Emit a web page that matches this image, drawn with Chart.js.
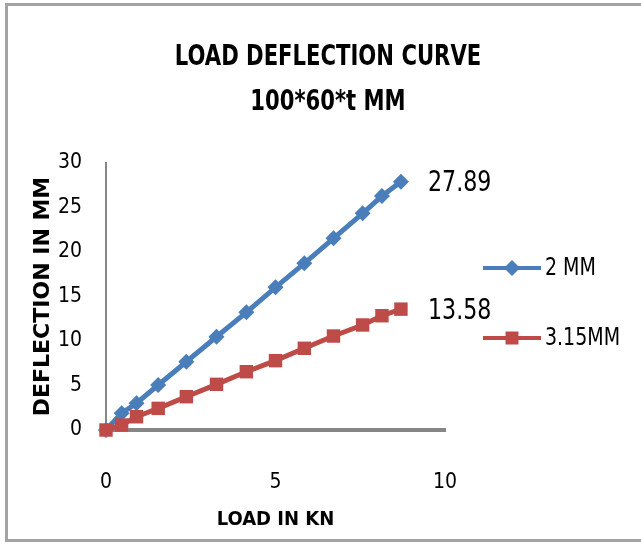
<!DOCTYPE html>
<html lang="en">
<head>
  <meta charset="UTF-8" />
  <title>Load Deflection Curve</title>
  <script src="https://cdn.jsdelivr.net/npm/chart.js"></script>
  <style>
    html, body { margin: 0; padding: 0; background: #fff; overflow: hidden; }
    .wrap { position: relative; width: 641px; height: 544px; }
    .frame {
      position: absolute; left: 5px; top: 3px; width: 700px; height: 533px;
      border: 3px solid #a3a3a3; pointer-events: none;
    }
  </style>
</head>
<body>
  <div class="wrap">
    <canvas id="lineChart"></canvas>
    <div class="frame"></div>
  </div>

  <script>
    const NARROW = "'Liberation Sans Narrow', 'DejaVu Sans Condensed', 'Roboto', sans-serif";

    const titleLines = ['LOAD DEFLECTION CURVE', '100*60*t MM'];
    const seriesNames = ['2 MM', '3.15MM'];
    const loadKN = [0, 0.46, 0.90, 1.54, 2.37, 3.26, 4.14, 5.00, 5.85, 6.71, 7.57, 8.14, 8.70];
    const defl2mm = [0, 1.89, 3.01, 5.06, 7.67, 10.48, 13.22, 16.03, 18.73, 21.54, 24.35, 26.29, 27.89];
    const defl315mm = [0, 0.56, 1.49, 2.43, 3.74, 5.13, 6.55, 7.79, 9.18, 10.56, 11.80, 12.84, 13.58];

    const BLUE = '#4a7ebb';
    const RED = '#be4b48';

    function pts(ys) {
      return loadKN.map((x, i) => ({ x, y: ys[i] }));
    }

    function marker(ctx, style, x, y, color) {
      ctx.save();
      ctx.fillStyle = color;
      ctx.beginPath();
      if (style === 'rectRot') {
        ctx.moveTo(x, y - 8); ctx.lineTo(x + 8, y); ctx.lineTo(x, y + 8); ctx.lineTo(x - 8, y);
      } else {
        ctx.rect(x - 6.5, y - 6.5, 13, 13);
      }
      ctx.closePath();
      ctx.fill();
      ctx.restore();
    }

    // text squeezed horizontally so it keeps its height but not its width
    function narrowText(ctx, text, x, y, sx, align) {
      ctx.save();
      ctx.translate(x, y);
      ctx.scale(sx, 1);
      ctx.textAlign = align;
      ctx.fillText(text, 0, 0);
      ctx.restore();
    }

    // title, value labels at the last points, and legend with line samples
    const extras = {
      id: 'extras',
      afterDatasetsDraw(chart) {
        const ctx = chart.ctx;
        ctx.save();
        ctx.fillStyle = '#000';
        ctx.textBaseline = 'middle';
        ctx.font = 'bold 28px ' + NARROW;
        narrowText(ctx, titleLines[0], 328, 58, 0.84, 'center');
        narrowText(ctx, titleLines[1], 328, 103, 0.84, 'center');

        // value labels
        ctx.font = '29px ' + NARROW;
        chart.data.datasets.forEach((ds, i) => {
          const meta = chart.getDatasetMeta(i);
          const last = meta.data[meta.data.length - 1];
          const v = ds.data[ds.data.length - 1].y;
          narrowText(ctx, v.toFixed(2), last.x + 27, last.y + 2, 0.85, 'left');
        });

        // legend
        const rows = [268, 338];
        ctx.font = '24px ' + NARROW;
        chart.data.datasets.forEach((ds, i) => {
          const y = rows[i];
          ctx.strokeStyle = ds.borderColor;
          ctx.lineWidth = 4;
          ctx.beginPath();
          ctx.moveTo(483, y);
          ctx.lineTo(541, y);
          ctx.stroke();
          marker(ctx, ds.pointStyle, 512, y, ds.borderColor);
          ctx.fillStyle = '#000';
          narrowText(ctx, ds.label, 545, y + 1, 0.88, 'left');
        });
        ctx.restore();
      }
    };

    const ctx = document.getElementById('lineChart').getContext('2d');
    new Chart(ctx, {
      type: 'scatter',
      data: {
        datasets: [{
          label: seriesNames[0],
          data: pts(defl2mm),
          showLine: true,
          borderColor: BLUE,
          backgroundColor: BLUE,
          borderWidth: 5,
          pointStyle: 'rectRot',
          pointRadius: 8,
          pointBorderWidth: 0,
          tension: 0,
          clip: false,
          order: 1
        }, {
          label: seriesNames[1],
          data: pts(defl315mm),
          showLine: true,
          borderColor: RED,
          backgroundColor: RED,
          borderWidth: 5,
          pointStyle: 'rect',
          pointRadius: 9.5,
          pointBorderWidth: 0,
          tension: 0,
          clip: false,
          order: 0
        }]
      },
      options: {
        responsive: true,
        maintainAspectRatio: false,
        animation: false,
        layout: { padding: { top: 163, right: 196, left: 0, bottom: 0 } },
        plugins: {
          legend: { display: false },
          title: { display: false },
          tooltip: { enabled: false }
        },
        scales: {
          x: {
            type: 'linear',
            min: 0,
            max: 10,
            afterFit: (s) => { s.height = 114; },
            grid: { display: false, drawTicks: false },
            border: { display: true, color: '#868686', width: 4 },
            ticks: { stepSize: 5, padding: 40, color: '#000', font: { family: NARROW, size: 21 } },
            title: {
              display: true, text: 'LOAD IN KN', color: '#000',
              font: { family: NARROW, size: 20, weight: 'bold' },
              padding: { top: 0, bottom: 12 }
            }
          },
          y: {
            min: 0,
            max: 30,
            afterFit: (s) => { s.width = 106; },
            grid: { display: false, drawTicks: false },
            border: { display: true, color: '#868686', width: 2 },
            ticks: { stepSize: 5, padding: 24, color: '#000', font: { family: NARROW, size: 21 } },
            title: {
              display: true, text: 'DEFLECTION IN MM', color: '#000',
              font: { family: "'DejaVu Sans', sans-serif", size: 22, weight: 'bold' },
              padding: { top: 30, bottom: 0 }
            }
          }
        }
      },
      plugins: [extras]
    });
  </script>
</body>
</html>
